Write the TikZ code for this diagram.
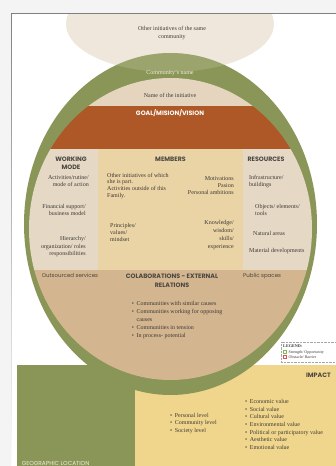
\documentclass[tikz,border=0pt]{standalone}
\usepackage{fontspec}
\setmainfont{Liberation Serif}
\newfontfamily\hdr{Poppins}
\definecolor{bgout}{HTML}{F4F4F4}
\definecolor{shade}{HTML}{E4E4E4}
\definecolor{beigetop}{HTML}{EFE7DB}
\definecolor{olive}{HTML}{8A9657}
\definecolor{nameband}{HTML}{E5D5BE}
\definecolor{rust}{HTML}{AD5826}
\definecolor{sidecol}{HTML}{E5D8C5}
\definecolor{midcol}{HTML}{EAD3A5}
\definecolor{tan}{HTML}{D3B58F}
\definecolor{yel}{HTML}{F0D68C}
\definecolor{txt}{HTML}{3E3A35}
\definecolor{hd}{HTML}{4A4641}
\definecolor{lightt}{HTML}{F2EDDC}
\definecolor{lgreen}{HTML}{7DBE5A}
\definecolor{lred}{HTML}{D9534F}
\begin{document}
\begin{tikzpicture}[x=1pt,y=-1pt,
  body/.style={font=\fontsize{6}{7.5}\selectfont, text=txt, inner sep=0pt},
  head/.style={font=\hdr\bfseries\fontsize{6.3}{8.5}\selectfont, text=hd, inner sep=0pt},
  sansreg/.style={font=\hdr\fontsize{5.5}{7}\selectfont, text=hd, inner sep=0pt},
  legtxt/.style={font=\fontsize{4}{5}\selectfont, text=txt, inner sep=0pt},
  legsq/.style={draw=#1, line width=0.6pt, fill=white, minimum width=3.4pt, minimum height=2.8pt, inner sep=0pt}]
\useasboundingbox (0,0) rectangle (336,466);
% page
\fill[bgout] (0,0) rectangle (336,466);
\fill[shade] (11,13) rectangle (340,470);
\fill[white] (12,14) rectangle (340,470);
% top beige ellipse
\begin{scope}
  \clip (12,14) rectangle (340,470);
  \fill[beigetop] (170,24) ellipse [x radius=104, y radius=48];
\end{scope}
% bottom rectangles
\fill[olive] (17,365) rectangle (135,470);
\fill[yel] (135,365) rectangle (340,470);
% ring
\fill[olive] (170.5,224) ellipse [x radius=146.5, y radius=171];
\begin{scope}
  \clip (170.5,224) ellipse [x radius=146.5, y radius=171];
  \fill[beigetop, fill opacity=0.18] (170,24) ellipse [x radius=104, y radius=48];
\end{scope}
% inner ellipse bands
\begin{scope}
  \clip (170.5,229) ellipse [x radius=141.5, y radius=151];
  \fill[nameband] (0,60) rectangle (340,106);
  \fill[rust] (0,106) rectangle (340,149);
  \fill[sidecol] (0,149) rectangle (98,270);
  \fill[midcol] (98,149) rectangle (243,270);
  \fill[sidecol] (243,149) rectangle (340,270);
  \fill[tan] (0,270) rectangle (340,400);
\end{scope}
% top texts (multi-line nodes: base = last line)
\node[body, align=center, anchor=base, font=\fontsize{6}{8}\selectfont] (other) at (172,38.4) {Other initiatives of the same\\community};
\node[body, anchor=base, text=lightt] (commname) at (170,74.4) {Community’s name};
\node[body, anchor=base] (initname) at (170,97.4) {Name of the initiative};
\node[head, anchor=base, text=white] (goal) at (170,115.2) {GOAL/MISION/VISION};
% headers
\node[head, align=center, anchor=base] (working) at (71,169.7) {WORKING\\MODE};
\node[head, anchor=base] (members) at (170.5,161.2) {MEMBERS};
\node[head, anchor=base] (resources) at (266,161.2) {RESOURCES};
% working mode column
\node[body, align=right, anchor=base east, font=\fontsize{6}{7}\selectfont] (activ) at (89,186.1) {Activities/rutine/\\mode of action};
\node[body, align=right, anchor=base east, font=\fontsize{6}{7}\selectfont] (financ) at (86,215.1) {Financial support/\\business model};
\node[body, align=right, anchor=base east, font=\fontsize{6}{7.6}\selectfont] (hier) at (86,255.6) {Hierarchy/\\organization/ roles\\responsibilities};
% members column
\node[body, align=left, anchor=base west, font=\fontsize{6}{6.8}\selectfont] (otherini) at (107,197.5) {Other initiatives of which\\she is part.\\Activities outside of this\\Family.};
\node[body, align=left, anchor=base west, font=\fontsize{6}{6.8}\selectfont] (princ) at (110,241) {Principles/\\values/\\mindset};
\node[body, align=right, anchor=base east, font=\fontsize{6}{7.2}\selectfont] (motiv) at (234,194.8) {Motivations\\Pasion\\Personal ambitions};
\node[body, align=right, anchor=base east, font=\fontsize{6}{8}\selectfont] (knowl) at (234,248.7) {Knowledge/\\wisdom/\\skills/\\experience};
% resources column
\node[body, align=left, anchor=base west, font=\fontsize{6}{7.3}\selectfont] (infra) at (249,186.4) {Infrastructure/\\buildings};
\node[body, align=left, anchor=base west, font=\fontsize{6}{7.6}\selectfont] (objects) at (255,215.7) {Objects/ elements/\\tools};
\node[body, anchor=base west] (natural) at (253,235.4) {Natural areas};
\node[body, anchor=base west] (material) at (249,252.4) {Material developments};
% collaborations row
\node[sansreg, anchor=base west] (outs) at (41.7,277.8) {Outsourced services};
\node[head, align=center, anchor=base, font=\hdr\bfseries\fontsize{6.3}{9}\selectfont] (colab) at (172,287.2) {COLABORATIONS - EXTERNAL\\RELATIONS};
\node[sansreg, anchor=base west] (public) at (243,277.8) {Public spaces};
\node[body, anchor=base west, font=\fontsize{6}{7.85}\selectfont] (colablist) at (131.7,305.7)
 {\begin{tabular}[t]{@{}l@{\hspace{2.6pt}}l@{}}
  \textbullet & Communities with similar causes\\
  \textbullet & Communities working for opposing\\
  & causes\\
  \textbullet & Communities in tension\\
  \textbullet & In process- potential
 \end{tabular}};
% impact
\node[head, anchor=base east] (impact) at (331,377.2) {IMPACT};
\node[body, anchor=base west, font=\fontsize{6}{7.65}\selectfont] (levels) at (170,417.1)
 {\begin{tabular}[t]{@{}l@{\hspace{2.6pt}}l@{}}
  \textbullet & Personal level\\
  \textbullet & Community level\\
  \textbullet & Society level
 \end{tabular}};
\node[body, anchor=base west, font=\fontsize{6}{7.7}\selectfont] (values) at (245,403.4)
 {\begin{tabular}[t]{@{}l@{\hspace{2.6pt}}l@{}}
  \textbullet & Economic value\\
  \textbullet & Social value\\
  \textbullet & Cultural value\\
  \textbullet & Environmental value\\
  \textbullet & Political or participatory value\\
  \textbullet & Aesthetic value\\
  \textbullet & Emotional value
 \end{tabular}};
\node[head, anchor=base west, text=lightt, font=\hdr\fontsize{5.8}{7}\selectfont] (geo) at (21.7,465.3) {GEOGRAPHIC LOCATION};
% legend
\node[draw=gray!70, densely dotted, fill=white, minimum width=64pt, minimum height=20pt, inner sep=0pt, anchor=north west] (legend) at (280.7,341.7) {};
\node[legtxt, anchor=base west, font=\bfseries\fontsize{4.2}{5}\selectfont] (legtitle) at (283,347) {LEGEND:};
\node[legsq=lgreen, anchor=west] (lgsq) at (283,351.5) {};
\node[legtxt, anchor=base west] (lgtext) at (288.5,353) {Strength/ Opportunity};
\node[legsq=lred, anchor=west] (lrsq) at (283,357) {};
\node[legtxt, anchor=base west] (lrtext) at (288.5,358.5) {Obstacle/ Barrier};
\end{tikzpicture}
\end{document}
